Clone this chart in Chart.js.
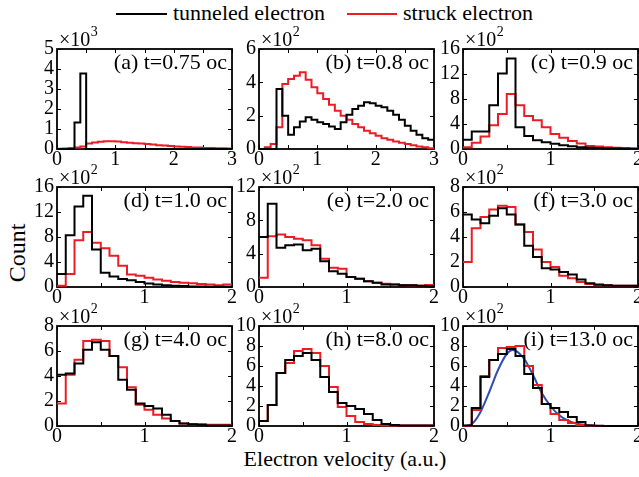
<!DOCTYPE html>
<html><head><meta charset="utf-8">
<script src="https://cdn.jsdelivr.net/npm/chart.js@4"></script>
<style>
html,body{margin:0;padding:0;background:#fff;overflow:hidden;width:639px;height:477px}
#fig{position:relative;width:639px;height:477px;overflow:hidden;font-family:"Liberation Serif","Times New Roman",serif;color:#000;background:#fff}
#fig canvas{position:absolute}
.t{position:absolute;white-space:nowrap;font-size:22px;line-height:22px}
.ln{position:absolute;height:2px}
</style></head><body>
<div id="fig">
  <div class="ln" style="left:116px;top:13px;width:51px;background:#000"></div>
  <div class="t" style="left:173px;top:2px">tunneled electron</div>
  <div class="ln" style="left:347px;top:13px;width:50px;background:#ec1c24"></div>
  <div class="t" style="left:403px;top:2px">struck electron</div>
  <div class="t" style="left:145px;top:448px;width:400px;text-align:center">Electron velocity (a.u.)</div>
  <div class="t" style="left:-33px;top:241px;width:100px;height:24px;line-height:24px;font-size:24px;text-align:center;transform:rotate(-90deg)">Count</div>
</div>
<script>
// ---------- data ----------
const edges3 = [0,0.1,0.2,0.3,0.4,0.5,0.6,0.7,0.8,0.9,1.0,1.1,1.2,1.3,1.4,1.5,1.6,1.7,1.8,1.9,2.0,2.1,2.2,2.3,2.4,2.5,2.6,2.7,2.8,2.9,3.0];
const edges2 = [0,0.1,0.2,0.3,0.4,0.5,0.6,0.7,0.8,0.9,1.0,1.1,1.2,1.3,1.4,1.5,1.6,1.7,1.8,1.9,2.0];

const panelLabels = ['(a) t=0.75 oc','(b) t=0.8 oc','(c) t=0.9 oc','(d) t=1.0 oc','(e) t=2.0 oc','(f) t=3.0 oc','(g) t=4.0 oc','(h) t=8.0 oc','(i) t=13.0 oc'];
const yMaxes = [5,6,16,16,12,8,8,10,10];
const ySteps = [1,2,4,4,4,2,2,2,2];
const yExponents = ['3','2','2','2','2','2','2','2','2'];
const xMaxes = [3,3,2,2,2,2,2,2,2];

// (a) units 10^3
const tunneledA = [0,0,0,1.33,3.77,0,0,0,0,0,0,0,0,0,0,0,0,0,0,0,0,0,0,0,0,0,0,0,0,0];
const struckA   = [0.01,0.03,0.05,0.08,0.12,0.27,0.32,0.36,0.39,0.39,0.37,0.34,0.31,0.29,0.27,0.25,0.22,0.19,0.17,0.15,0.13,0.11,0.10,0.08,0.07,0.05,0.05,0.04,0.04,0.03];
// (b) units 10^2
const tunneledB = [0,0,0,3.6,2.0,0.85,1.3,1.65,1.9,1.75,1.6,1.5,1.35,1.2,1.6,2.05,2.4,2.6,2.8,2.75,2.6,2.5,2.3,2.05,1.75,1.4,1.1,0.85,0.65,0.55];
const struckB   = [0.0,0.1,0.3,1.3,3.9,4.2,4.4,4.6,4.15,3.7,3.35,3.0,2.65,2.3,2.0,1.75,1.5,1.3,1.1,0.95,0.8,0.65,0.55,0.45,0.37,0.3,0.22,0.15,0.1,0.05];
// (c)
const tunneledC = [1.5,2.8,2.8,7.0,12.1,14.5,3.5,2.1,1.4,1.1,0.85,0.6,0.45,0.3,0.2,0.15,0.1,0.1,0.05,0.05];
const struckC   = [0.3,1.0,2.0,3.8,5.6,8.8,7.0,5.3,4.6,3.5,2.4,1.8,1.3,0.9,0.5,0.4,0.3,0.2,0.15,0.1];
// (d)
const tunneledD = [2.1,8.3,12.9,14.6,6.0,2.3,1.7,1.3,1.1,0.8,0.55,0.4,0.3,0.2,0.15,0.1,0.1,0.05,0.05,0.03];
const struckD   = [0.2,2.1,7.5,8.8,7.1,6.2,5.0,3.4,2.0,1.8,1.5,1.2,1.0,0.8,0.7,0.6,0.5,0.4,0.3,0.4];
// (e)
const tunneledE = [6.0,10.0,4.7,5.0,5.1,4.4,4.6,3.1,1.9,1.6,1.2,1.0,0.7,0.5,0.3,0.3,0.2,0.2,0.15,0.1];
const struckE   = [1.1,6.1,6.3,6.0,5.8,5.6,5.0,3.4,2.3,2.2,1.2,1.0,0.7,0.5,0.4,0.3,0.25,0.2,0.15,0.25];
// (f)
const tunneledF = [5.8,5.4,5.1,5.7,6.3,5.8,5.0,3.3,2.4,1.5,1.4,1.2,1.0,0.6,0.3,0.2,0.15,0.1,0.1,0.1];
const struckF   = [2.0,4.7,5.6,6.2,6.5,6.4,5.0,4.4,3.0,2.0,1.6,0.9,0.7,0.4,0.25,0.15,0.15,0.1,0.1,0.1];
// (g)
const tunneledG = [4.1,4.2,5.0,6.1,6.7,6.1,5.6,3.7,2.9,1.8,1.6,1.4,0.9,0.4,0.2,0.15,0.1,0.05,0.05,0.05];
const struckG   = [1.8,4.1,5.3,6.8,6.9,6.8,5.6,4.7,3.1,1.7,1.3,0.9,0.6,0.4,0.2,0.15,0.15,0.1,0.1,0.1];
// (h)
const tunneledH = [0.5,2.1,5.3,6.6,7.0,7.3,6.6,4.9,3.4,2.3,2.0,1.7,1.2,0.6,0.2,0.1,0.05,0.05,0.05,0.05];
const struckH   = [0.5,2.1,5.3,6.3,7.5,7.7,7.3,6.0,3.9,1.9,1.0,0.4,0.2,0.1,0.05,0.05,0.05,0.05,0.05,0.05];
// (i)
const tunneledI = [0.05,1.8,4.9,6.6,7.2,7.7,7.0,5.2,3.8,2.2,1.8,1.4,0.9,0.4,0.05,0.02,0,0,0,0];
const struckI   = [0.0,1.6,5.0,6.6,7.8,7.9,8.0,6.0,4.1,2.2,1.2,0.6,0.3,0.1,0.02,0,0,0,0,0];
const fitX = [0,0.1,0.2,0.3,0.4,0.5,0.57,0.7,0.8,0.9,1.0,1.1,1.2,1.3,1.4,1.5,1.6,2.0];
const fitY = [0,0.2,1.4,3.4,5.6,7.2,7.6,6.7,5.1,3.3,2.0,1.07,0.53,0.23,0.1,0.03,0,0];

const tunneledAll = [tunneledA,tunneledB,tunneledC,tunneledD,tunneledE,tunneledF,tunneledG,tunneledH,tunneledI];
const struckAll   = [struckA,struckB,struckC,struckD,struckE,struckF,struckG,struckH,struckI];

// ---------- layout ----------
const colLeft = [57,259,463];
const rowTop = [49,187,326];
const BLACK = '#000000', RED = '#ec1c24', BLUE = '#2f4db3';

Chart.defaults.font.family = '"Liberation Serif","Times New Roman",serif';
Chart.defaults.color = '#000';

function hist(edges, vals){
  const pts = vals.map((v,i)=>({x:edges[i], y:v}));
  pts.push({x:edges[vals.length], y:vals[vals.length-1]});
  return pts;
}

const framePlugin = {
  id:'frame',
  beforeDatasetsDraw(chart){
    const {ctx, chartArea:a, scales:{x,y}} = chart;
    const o = chart.options.plugins.frame;
    ctx.save();
    ctx.strokeStyle = '#000'; ctx.lineWidth = 1;
    ctx.beginPath();
    for (let v = x.min; v <= x.max + 1e-9; v += o.xMinor){
      const px = Math.round(x.getPixelForValue(v)) + 0.5;
      ctx.moveTo(px, a.bottom); ctx.lineTo(px, a.bottom - 4);
      ctx.moveTo(px, a.top); ctx.lineTo(px, a.top + 4);
    }
    y.ticks.forEach(t=>{
      const py = Math.round(y.getPixelForValue(t.value)) + 0.5;
      ctx.moveTo(a.left, py); ctx.lineTo(a.left + 4, py);
      ctx.moveTo(a.right, py); ctx.lineTo(a.right - 4, py);
    });
    ctx.stroke();
    ctx.lineWidth = 1.8;
    ctx.strokeRect(a.left, a.top, a.right - a.left, a.bottom - a.top);
    // panel label
    ctx.fillStyle = '#000';
    ctx.font = '22px "Liberation Serif","Times New Roman",serif';
    ctx.textAlign = 'right'; ctx.textBaseline = 'alphabetic';
    ctx.fillText(o.label, a.right - 5, a.top + 20);
    // exponent
    ctx.textAlign = 'left';
    ctx.font = '20px "Liberation Serif","Times New Roman",serif';
    const base = '\u00d710';
    ctx.fillText(base, a.left + 2, a.top - 3.5);
    const w = ctx.measureText(base).width;
    ctx.font = '14px "Liberation Serif","Times New Roman",serif';
    ctx.fillText(o.exp, a.left + 2 + w + 0.5, a.top - 13.5);
    ctx.restore();
  }
};

const fig = document.getElementById('fig');
for (let k = 0; k < 9; k++){
  const col = k % 3, row = Math.floor(k / 3);
  const cv = document.createElement('canvas');
  cv.width = 239; cv.height = 170;
  cv.style.width = '239px'; cv.style.height = '170px';
  cv.style.left = (colLeft[col] - 50) + 'px';
  cv.style.top = (rowTop[row] - 40) + 'px';
  fig.appendChild(cv);
  const edges = xMaxes[k] === 3 ? edges3 : edges2;
  const datasets = [
    {label:'tunneled electron', data:hist(edges, tunneledAll[k]), borderColor:BLACK, borderWidth:2, stepped:'before', pointRadius:0, fill:false, clip:4},
    {label:'struck electron', data:hist(edges, struckAll[k]), borderColor:RED, borderWidth:2, stepped:'before', pointRadius:0, fill:false, clip:4}
  ];
  if (k === 8){
    datasets.push({label:'fit', data:fitX.map((v,i)=>({x:v, y:fitY[i]})), borderColor:BLUE, borderWidth:2, pointRadius:0, fill:false, cubicInterpolationMode:'monotone', clip:4});
  }
  new Chart(cv, {
    type:'line',
    data:{datasets},
    plugins:[framePlugin],
    options:{
      responsive:false, animation:false, devicePixelRatio:1,
      layout:{padding:{left:10, top:40, right:14, bottom:5}},
      plugins:{
        legend:{display:false}, tooltip:{enabled:false},
        frame:{label:panelLabels[k], exp:yExponents[k], xMinor:0.5}
      },
      scales:{
        x:{type:'linear', min:0, max:xMaxes[k],
           grid:{display:false, drawTicks:false}, border:{display:false},
           ticks:{stepSize:1, maxRotation:0, autoSkip:false, padding:0, color:'#000',
                  font:{size:20, lineHeight:1.1}},
           afterFit:(s)=>{ s.height = 25; }},
        y:{min:0, max:yMaxes[k],
           grid:{display:false, drawTicks:false}, border:{display:false},
           ticks:{stepSize:ySteps[k], autoSkip:false, padding:3, color:'#000', font:{size:20}},
           afterFit:(s)=>{ s.width = 40; }}
      }
    }
  });
}
</script>
</body></html>
